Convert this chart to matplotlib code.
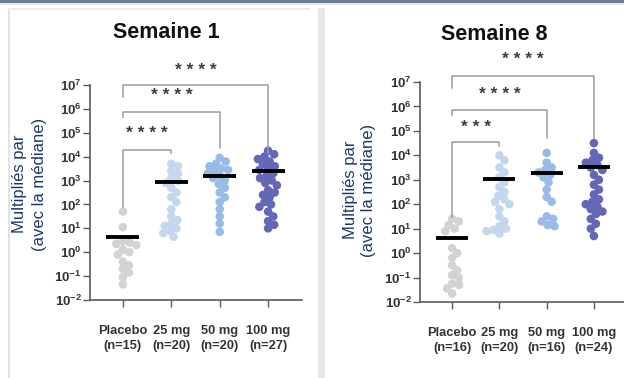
import numpy as np
import matplotlib.pyplot as plt
from matplotlib.patches import Rectangle

plt.rcParams['font.family'] = ['Liberation Sans', 'DejaVu Sans']
plt.rcParams['mathtext.fontset'] = 'custom'
plt.rcParams['mathtext.rm'] = 'Liberation Sans'
plt.rcParams['mathtext.bf'] = 'Liberation Sans:bold'

# --- data (log10 of fold change) ---
groups = ['Placebo', '25 mg', '50 mg', '100 mg']
n_w1 = [15, 20, 20, 27]
n_w8 = [16, 20, 16, 24]
colors = ['#d3d3d3', '#c4d7ef', '#98bce5', '#6467b5']

w1_placebo = [1.7, 1.05, 0.45, 0.4, 0.35, 0.3, 0.1, 0.0, -0.1, -0.4, -0.55, -0.7, -0.85, -1.05, -1.35]
w1_25 = [3.7, 3.6, 3.4, 3.3, 3.1, 3.0, 2.9, 2.7, 2.5, 2.3, 2.1, 1.8, 1.5, 1.35, 1.2, 1.1, 1.0, 0.9, 0.8, 0.65]
w1_50 = [3.95, 3.8, 3.7, 3.6, 3.5, 3.45, 3.4, 3.3, 3.2, 3.1, 3.0, 2.85, 2.7, 2.5, 2.3, 2.1, 1.8, 1.5, 1.2, 0.85]
w1_100 = [4.25, 4.1, 4.0, 3.9, 3.8, 3.7, 3.6, 3.5, 3.45, 3.3, 3.2, 3.1, 3.0, 2.9, 2.8, 2.6,
          2.5, 2.4, 2.3, 2.1, 2.0, 1.9, 1.7, 1.5, 1.3, 1.15, 1.0]
w1_median = [0.65, 2.95, 3.2, 3.4]

w8_placebo = [1.4, 1.3, 1.15, 1.0, 0.9, 0.2, 0.0, -0.2, -0.5, -0.7, -0.9, -1.0, -1.25, -1.3, -1.45, -1.65]
w8_25 = [4.0, 3.8, 3.5, 3.3, 3.1, 2.9, 2.7, 2.5, 2.35, 2.2, 2.1, 2.0, 1.8, 1.5, 1.3, 1.1, 1.0, 0.95, 0.9, 0.8]
w8_50 = [4.1, 3.7, 3.5, 3.4, 3.3, 3.2, 3.1, 2.9, 2.6, 2.3, 2.1, 1.5, 1.4, 1.3, 1.15, 1.1]
w8_100 = [4.5, 4.1, 3.9, 3.8, 3.7, 3.6, 3.5, 3.4, 3.2, 3.0, 2.8, 2.6, 2.4, 2.2, 2.1, 2.0,
          1.9, 1.8, 1.7, 1.6, 1.4, 1.2, 1.0, 0.7]
w8_median = [0.6, 3.03, 3.27, 3.52]

w1_stars = ['****', '****', '****']  # placebo vs 100, 50, 25 mg
w8_stars = ['****', '****', '***']

W, H = 624, 378


def swarm(vals, px_dec, px_unit, d=7.0):
    # simple beeswarm: smallest horizontal offset without overlap
    ys = np.array(vals) * px_dec
    order = np.argsort(-ys)
    placed = []
    xs = np.zeros(len(ys))
    for i in order:
        y = ys[i]
        cands = [0.0]
        for (px, py) in placed:
            dy = abs(y - py)
            if dy < d:
                dx = np.sqrt(d * d - dy * dy)
                cands += [px + dx, px - dx]
        cands.sort(key=abs)
        for c in cands:
            if all((c - px) ** 2 + (y - py) ** 2 >= d * d - 1e-6 for px, py in placed):
                xs[i] = c
                placed.append((c, y))
                break
    return xs / px_unit


def panel(rect, data, medians, ns, stars, brackets, px_dec, px_unit):
    ax = fig.add_axes(rect)
    ax.set_yscale('log')
    ax.set_ylim(1e-2, 1e7)
    ax.set_xlim(-0.68, 3.7)
    for i, vals in enumerate(data):
        off = swarm(vals, px_dec, px_unit)
        ax.scatter(i + off, 10.0 ** np.array(vals), s=38, color=colors[i],
                   edgecolors='none', zorder=2)
        ax.hlines(10 ** medians[i], i - 0.34, i + 0.34, color='black', lw=2.8, zorder=3)
    for (x1, yl, yh, yr, ys), st in zip(brackets, stars):
        ax.plot([0, 0, x1, x1], [10 ** yl, 10 ** yh, 10 ** yh, 10 ** yr],
                color='#9c9c9c', lw=1.1, clip_on=False)
        ax.text(x1 / 2, 10 ** ys, ' '.join(st), ha='center', va='center',
                fontsize=12.5, fontweight='bold', color='#3c3c3c')
    for s in ['top', 'right']:
        ax.spines[s].set_visible(False)
    for s in ['left', 'bottom']:
        ax.spines[s].set_color('#5a5a5a')
        ax.spines[s].set_linewidth(1.2)
    ax.set_yticks([10.0 ** k for k in range(-2, 8)])
    ax.set_yticklabels([r'$\mathbf{10^{%d}}$' % k for k in range(-2, 8)])
    ax.minorticks_off()
    ax.set_xticks(range(4))
    ax.set_xticklabels([f'{g}\n(n={n})' for g, n in zip(groups, ns)],
                       fontweight='bold', fontsize=9.3, linespacing=1.3)
    ax.tick_params(axis='y', length=5, width=1, color='#5a5a5a', labelsize=9.5,
                   labelcolor='#333333', pad=1)
    ax.tick_params(axis='x', length=5, width=1, color='#5a5a5a',
                   labelcolor='#333333', pad=13)
    return ax


fig = plt.figure(figsize=(W / 100, H / 100), dpi=100)

# screenshot frame
fig.add_artist(Rectangle((0, 1 - 3 / H), 1, 3 / H, transform=fig.transFigure,
                         color='#6c7b98', lw=0))
fig.add_artist(Rectangle((0, 1 - 5 / H), 1, 2 / H, transform=fig.transFigure,
                         color='#e6e6e6', lw=0))
fig.add_artist(Rectangle((8 / W, 0), 2 / W, 1 - 8 / H, transform=fig.transFigure,
                         color='#e3e3e3', lw=0))
fig.add_artist(Rectangle((8 / W, 1 - 10 / H), 302 / W, 2 / H, transform=fig.transFigure,
                         color='#ececec', lw=0))
fig.add_artist(Rectangle((318 / W, 0), 7 / W, 1 - 8 / H, transform=fig.transFigure,
                         color='#e6e6e6', lw=0))

# week 1
br1 = [(3, 6.5, 7.0, 4.15, 7.6), (2, 5.66, 5.87, 4.36, 6.55), (1, 1.9, 4.28, 4.15, 4.95)]
panel([90 / W, 1 - 300 / H, 212 / W, 215 / H], [w1_placebo, w1_25, w1_50, w1_100],
      w1_median, n_w1, w1_stars, br1, 23.9, 48.4)

# week 8
br8 = [(3, 6.75, 7.25, 4.7, 7.9), (2, 5.65, 5.85, 4.7, 6.5), (1, 1.47, 4.54, 4.4, 5.15)]
panel([420 / W, 1 - 302 / H, 207 / W, 220 / H], [w8_placebo, w8_25, w8_50, w8_100],
      w8_median, n_w8, w8_stars, br8, 24.4, 47.3)

fig.text(166 / W, 1 - 33 / H, 'Semaine 1', ha='center', va='center',
         fontsize=15.5, fontweight='bold', color='#111111')
fig.text(494 / W, 1 - 35 / H, 'Semaine 8', ha='center', va='center',
         fontsize=15.5, fontweight='bold', color='#111111')

navy = '#1f3768'
for x1, x2, yc in [(20, 40, 184), (351, 368, 190)]:
    fig.text(x1 / W, 1 - yc / H, 'Multipliés par', rotation=90, ha='center',
             va='center', fontsize=12, color=navy)
    fig.text(x2 / W, 1 - yc / H, '(avec la médiane)', rotation=90, ha='center',
             va='center', fontsize=12, color=navy)

fig.savefig('out.png', dpi=100)
